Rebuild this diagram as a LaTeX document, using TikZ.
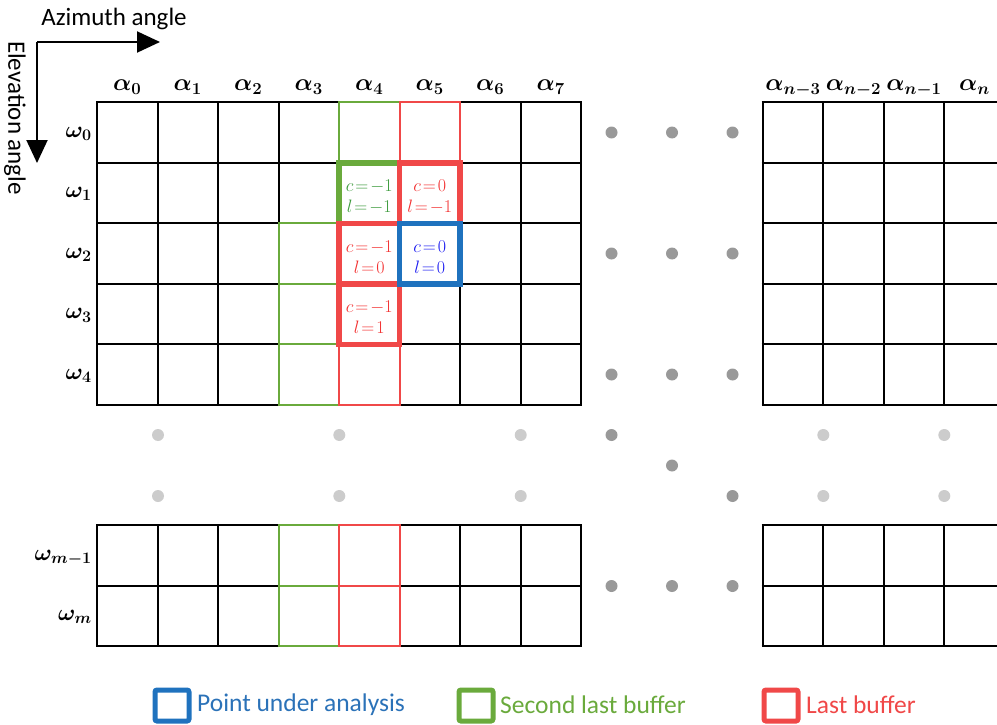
\RequirePackage{fix-cm}
\documentclass[tikz,border=0pt]{standalone}
\usepackage{fontspec}
\setmainfont{Carlito}
\usepackage{amsmath}
\usetikzlibrary{arrows.meta}
\definecolor{cgreen}{HTML}{6AAA3C}
\definecolor{cred}{HTML}{F04848}
\definecolor{cblue}{HTML}{1F72BE}
\definecolor{tgreen}{HTML}{3C9A3C}
\definecolor{tred}{HTML}{F23030}
\definecolor{tblue}{HTML}{1A1AF0}
\definecolor{ldblue}{HTML}{2B72B8}
\definecolor{darkdot}{HTML}{999999}
\definecolor{lightdot}{HTML}{CCCCCC}
\tikzset{
  gridline/.style={line width=2pt, black},
  thingreen/.style={line width=2pt, cgreen},
  thinred/.style={line width=2pt, cred},
  thickgreen/.style={line width=5.5pt, cgreen},
  thickred/.style={line width=5.5pt, cred},
  thickblue/.style={line width=5.5pt, cblue},
  axisarrow/.style={line width=2pt, -{Triangle[length=23pt,width=21pt]}},
  axlabel/.style={font=\fontsize{25}{28}\selectfont, inner sep=0pt},
  glabel/.style={font=\fontsize{24}{28}\selectfont\boldmath, inner sep=0pt, anchor=base},
  wlabel/.style={font=\fontsize{23}{28}\selectfont\boldmath, inner sep=0pt, anchor=base east},
  celltext/.style={font=\fontsize{18}{21}\selectfont, align=center, inner sep=0pt},
  ddot/.style={circle, fill=darkdot, minimum size=12pt, inner sep=0pt},
  ldot/.style={circle, fill=lightdot, minimum size=12pt, inner sep=0pt},
  legbox/.style={line width=5pt, rounded corners=2pt},
  legtext/.style={font=\fontsize{25.5}{28}\selectfont, inner sep=0pt, anchor=west},
}
\newcommand{\cv}[2]{$c\mkern2mu{=}\mkern2mu#1$\\$l\mkern2mu{=}\mkern2mu#2$}
\begin{document}
\begin{tikzpicture}[x=1pt,y=-1pt]
\useasboundingbox (0,0) rectangle (997,725);
% axes
\coordinate (orig) at (37,42);
\coordinate (azend) at (160,42);
\coordinate (elend) at (37,163);
\draw[axisarrow] (orig) -- (azend);
\draw[axisarrow] (orig) -- (elend);
\node[axlabel] (azl) at (114,19) {Azimuth angle};
\node[axlabel, rotate=-90] (ell) at (15,118) {Elevation angle};
% left top grid
\foreach \i in {0,...,8} \draw[gridline] ({97+60.5*\i},102.3) -- ({97+60.5*\i},404.8);
\foreach \j in {0,...,5} \draw[gridline] (96,{102.3+60.5*\j}) -- (582,{102.3+60.5*\j});
% left bottom grid
\foreach \i in {0,...,8} \draw[gridline] ({97+60.5*\i},525.3) -- ({97+60.5*\i},646.3);
\foreach \j in {0,1,2} \draw[gridline] (96,{525.3+60.5*\j}) -- (582,{525.3+60.5*\j});
% right top grid
\foreach \i in {0,...,3} \draw[gridline] ({762.7+60.5*\i},102.3) -- ({762.7+60.5*\i},404.8);
\foreach \j in {0,...,5} \draw[gridline] (761.7,{102.3+60.5*\j}) -- (1000,{102.3+60.5*\j});
% right bottom grid
\foreach \i in {0,...,3} \draw[gridline] ({762.7+60.5*\i},525.3) -- ({762.7+60.5*\i},646.3);
\foreach \j in {0,1,2} \draw[gridline] (761.7,{525.3+60.5*\j}) -- (1000,{525.3+60.5*\j});
% thin coloured cells
\foreach \j in {2,3,4} \draw[thingreen] ({97+60.5*3},{102.3+60.5*\j}) rectangle +(60.5,60.5);
\draw[thingreen] ({97+60.5*4},102.3) rectangle +(60.5,60.5);
\foreach \j in {0,1} \draw[thingreen] ({97+60.5*3},{525.3+60.5*\j}) rectangle +(60.5,60.5);
\draw[thinred] ({97+60.5*5},102.3) rectangle +(60.5,60.5);
\draw[thinred] ({97+60.5*4},{102.3+60.5*4}) rectangle +(60.5,60.5);
\foreach \j in {0,1} \draw[thinred] ({97+60.5*4},{525.3+60.5*\j}) rectangle +(60.5,60.5);
% thick cells
\draw[thickgreen] ({97+60.5*4},{102.3+60.5*1}) rectangle +(60.5,60.5);
\draw[thickred] ({97+60.5*5},{102.3+60.5*1}) rectangle +(60.5,60.5);
\draw[thickred] ({97+60.5*4},{102.3+60.5*2}) rectangle +(60.5,60.5);
\draw[thickred] ({97+60.5*4},{102.3+60.5*3}) rectangle +(60.5,60.5);
\draw[thickblue] ({97+60.5*5},{102.3+60.5*2}) rectangle +(60.5,60.5);
% cell texts
\node[celltext, text=tgreen] (t41) at ({97+60.5*4.5},196.5) {\cv{{-}1}{{-}1}};
\node[celltext, text=tred] (t51) at ({97+60.5*5.5},196.5) {\cv{0}{{-}1}};
\node[celltext, text=tred] (t42) at ({97+60.5*4.5},257) {\cv{{-}1}{0}};
\node[celltext, text=tblue] (t52) at ({97+60.5*5.5},257) {\cv{0}{0}};
\node[celltext, text=tred] (t43) at ({97+60.5*4.5},317.5) {\cv{{-}1}{1}};
% column labels
\foreach \i in {0,...,7} \node[glabel] (a\i) at ({97+60.5*(\i+0.5)},91) {$\alpha_{\i}$};
\node[glabel] (an3) at ({762.7+60.5*0.5},91) {$\alpha_{n-3}$};
\node[glabel] (an2) at ({762.7+60.5*1.5},91) {$\alpha_{n-2}$};
\node[glabel] (an1) at ({762.7+60.5*2.5},91) {$\alpha_{n-1}$};
\node[glabel] (an) at ({762.7+60.5*3.5},91) {$\alpha_{n}$};
% row labels
\foreach \j in {0,...,4} \node[wlabel] (w\j) at (92,{102.3+60.5*(\j+0.5)+4.5}) {$\omega_{\j}$};
\node[wlabel] (wm1) at (92,560) {$\omega_{m-1}$};
\node[wlabel] (wm) at (92,620.5) {$\omega_{m}$};
% dark dots
\foreach \y [count=\k] in {132.5,253.5,374.5,586} {
  \foreach \x [count=\q] in {611.5,672,732.5} \node[ddot] (dd\k\q) at (\x,\y) {};
}
\node[ddot] (dg1) at (611.5,435) {};
\node[ddot] (dg2) at (672,465.5) {};
\node[ddot] (dg3) at (732.5,496) {};
% light dots
\foreach \x [count=\q] in {158,339.3,520.7,823.3,944.3} {
  \node[ldot] (la\q) at (\x,435) {};
  \node[ldot] (lb\q) at (\x,496) {};
}
% legend
\draw[legbox, cblue] (155,690) rectangle (189,721);
\node[legtext, text=ldblue] (lg1) at (197,705) {Point under analysis};
\draw[legbox, cgreen] (459,690) rectangle (493,721);
\node[legtext, text=cgreen] (lg2) at (500,705) {Second last buffer};
\draw[legbox, cred] (764,690) rectangle (798,721);
\node[legtext, text=cred] (lg3) at (806,705) {Last buffer};
\end{tikzpicture}
\end{document}
